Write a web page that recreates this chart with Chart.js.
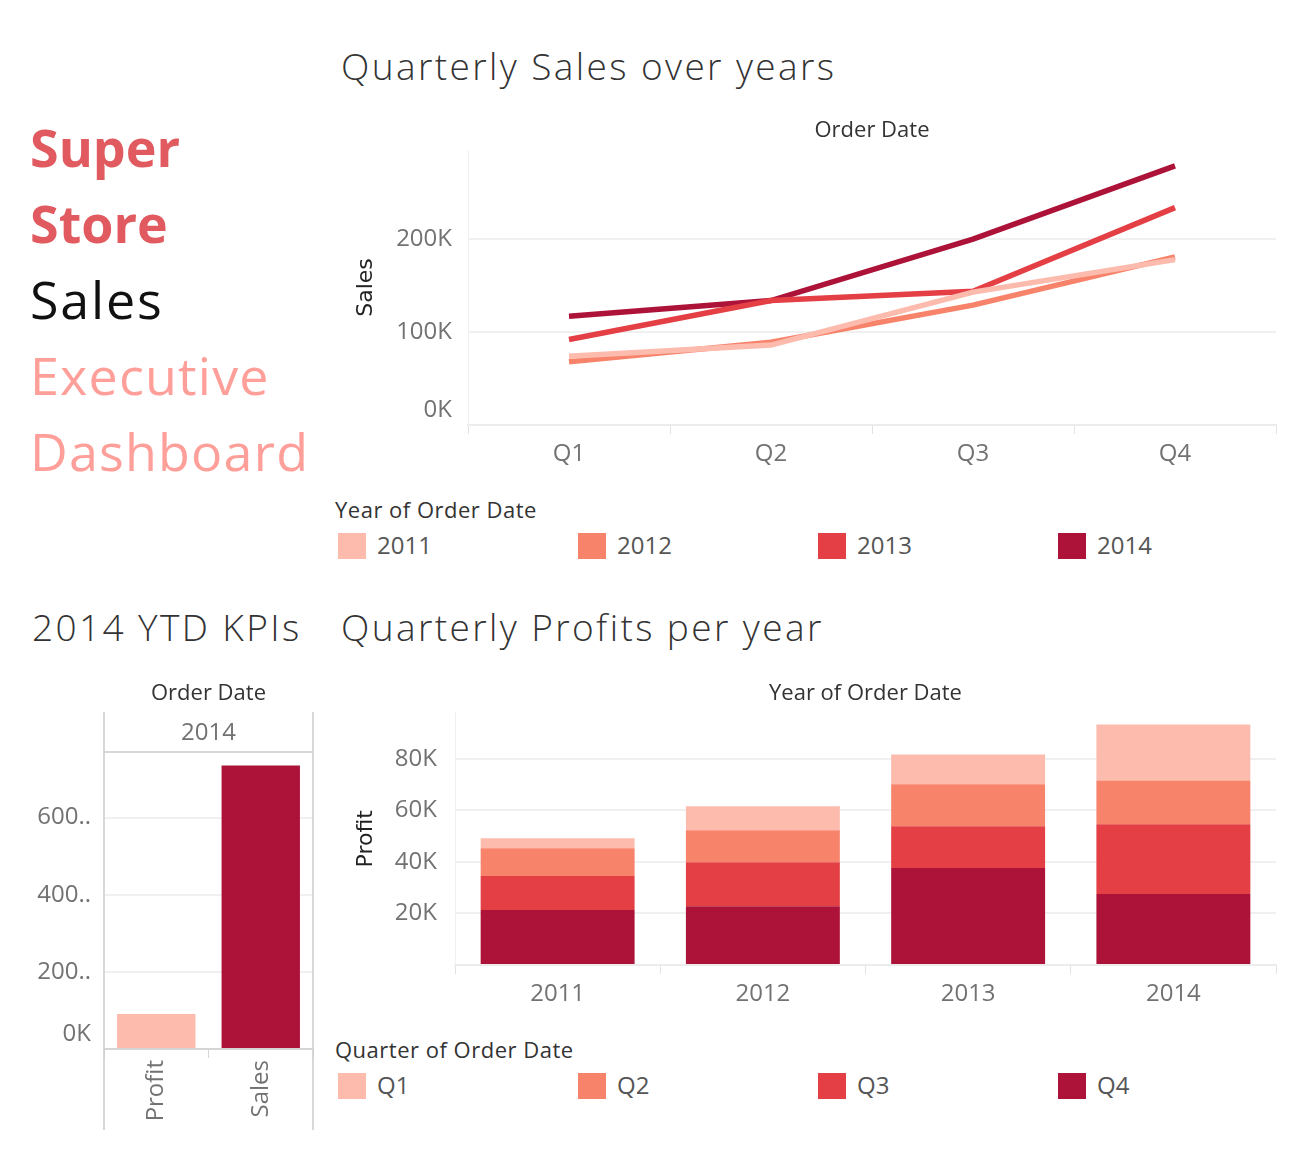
<!DOCTYPE html>
<html>
<head>
<meta charset="utf-8">
<script src="https://cdn.jsdelivr.net/npm/chart.js@4.4.1/dist/chart.umd.min.js"></script>
<style>
  body { margin: 0; background: #fff; font-family: "Open Sans", sans-serif; }
  #page { position: relative; width: 1298px; height: 1154px; overflow: hidden; }
  .abs { position: absolute; }
  .brand { left: 30px; top: 109px; font-size: 52px; line-height: 76px; }
  .brand div { white-space: nowrap; }
  .red { color: #e05a5f; font-weight: 700; }
  .black { color: #111; font-weight: 400; letter-spacing: 1.8px; }
  .pink { color: #ff9f9a; font-weight: 400; letter-spacing: 1.2px; }
  .title { font-size: 37px; font-weight: 300; color: #333; white-space: nowrap; letter-spacing: 2.4px; }
  .legend-title { font-size: 22px; font-weight: 500; color: #333; white-space: nowrap; letter-spacing: 0.5px; }
  .legend-item { position: absolute; font-size: 24px; color: #555; white-space: nowrap; }
  .legend-item span { display: inline-block; width: 28px; height: 26px; vertical-align: middle; margin-right: 11px; margin-top: -3px; }
  canvas { position: absolute; }
</style>
</head>
<body>
<div id="page">
  <div class="abs brand">
    <div class="red">Super</div>
    <div class="red">Store</div>
    <div class="black">Sales</div>
    <div class="pink">Executive</div>
    <div class="pink">Dashboard</div>
  </div>

  <div class="abs title" style="left:341px; top:40px;">Quarterly Sales over years</div>
  <canvas id="salesChart" width="950" height="380" style="left:340px; top:110px;"></canvas>
  <div class="abs legend-title" style="left:335px; top:494px;">Year of Order Date</div>
  <div id="yearLegend"></div>

  <div class="abs title" style="left:32px; top:601px;">2014 YTD KPIs</div>
  <canvas id="kpiChart" width="310" height="460" style="left:20px; top:680px;"></canvas>

  <div class="abs title" style="left:341px; top:601px;">Quarterly Profits per year</div>
  <canvas id="profitChart" width="950" height="340" style="left:340px; top:680px;"></canvas>
  <div class="abs legend-title" style="left:335px; top:1034px;">Quarter of Order Date</div>
  <div id="quarterLegend"></div>
</div>

<script>
// data
const quarters = ["Q1", "Q2", "Q3", "Q4"];
const years = ["2011", "2012", "2013", "2014"];
const colors = ["#fcbbad", "#f8836b", "#e33f45", "#ad1339"];

const sales2011 = [74000, 86000, 143000, 178000];
const sales2012 = [68000, 89000, 129000, 181000];
const sales2013 = [92000, 134000, 144000, 234000];
const sales2014 = [117000, 134000, 200000, 279000];
const salesTicks = [0, 100000, 200000];

// profit per year, one array per quarter
const profitQ1 = [3900, 9300, 11600, 21700];
const profitQ2 = [10800, 12400, 16300, 17000];
const profitQ3 = [13200, 17100, 16200, 27100];
const profitQ4 = [21300, 22800, 37600, 27500];
const profitTicks = [0, 20000, 40000, 60000, 80000];

const kpiLabels = ["Profit", "Sales"];
const kpiValues = [91000, 735000];
const kpiTicks = [0, 200000, 400000, 600000];

const tickGray = "#727272";
const gridGray = "#f0f0f0";
const tickFont = { size: 24, family: "'Open Sans'" };
const axisTitleFont = { size: 22, family: "'DejaVu Sans'" };

// zero label sits a bit above the axis line, like the original
const zeroUp = txt => [txt, ""];

// small title above the plot area
const headerPlugin = {
  id: "header",
  afterDraw(chart, args, opts) {
    if (!opts.text) return;
    const ctx = chart.ctx;
    const a = chart.chartArea;
    ctx.save();
    ctx.font = "500 22px 'Open Sans'";
    ctx.fillStyle = "#333";
    ctx.textAlign = "center";
    ctx.textBaseline = "middle";
    ctx.fillText(opts.text, (a.left + a.right) / 2, opts.y);
    ctx.restore();
  }
};
Chart.register(headerPlugin);

function buildLegend(id, labels, top) {
  const holder = document.getElementById(id);
  labels.forEach((lab, i) => {
    const d = document.createElement("div");
    d.className = "legend-item";
    d.style.left = (338 + i * 240) + "px";
    d.style.top = top + "px";
    d.innerHTML = '<span style="background:' + colors[i] + '"></span>' + lab;
    holder.appendChild(d);
  });
}
buildLegend("yearLegend", years, 528);
buildLegend("quarterLegend", quarters, 1068);

// Quarterly sales lines
const salesByYear = [sales2011, sales2012, sales2013, sales2014];
new Chart(document.getElementById("salesChart"), {
  type: "line",
  data: {
    labels: quarters,
    datasets: years.map((y, i) => ({
      label: y,
      data: salesByYear[i],
      borderColor: colors[i],
      backgroundColor: colors[i],
      borderWidth: 5.5,
      pointRadius: 0,
      tension: 0,
      fill: false
    }))
  },
  options: {
    responsive: false,
    animation: false,
    layout: { padding: { top: 40, right: 14, left: 0, bottom: 0 } },
    plugins: {
      legend: { display: false },
      tooltip: { enabled: false },
      header: { text: "Order Date", y: 21 }
    },
    scales: {
      x: {
        offset: true,
        grid: { offset: true, drawOnChartArea: false, tickLength: 9, color: "#e2e2e2", lineWidth: 1 },
        border: { color: "#ececec", width: 2 },
        ticks: { color: tickGray, font: tickFont, padding: 6 },
        afterFit(s) { s.height = 65; }
      },
      y: {
        min: 0,
        max: 296000,
        afterBuildTicks(s) { s.ticks = salesTicks.map(v => ({ value: v })); },
        ticks: {
          color: tickGray,
          font: tickFont,
          padding: 16,
          callback: v => v === 0 ? zeroUp("0K") : (v / 1000) + "K"
        },
        grid: { color: gridGray, lineWidth: 2, drawTicks: false },
        border: { color: "#f0f0f0", width: 1 },
        title: { display: true, text: "Sales", color: "#222", font: axisTitleFont, padding: { top: 13, bottom: 0 } },
        afterFit(s) { s.width = 128; }
      }
    }
  }
});

// Quarterly profits stacked bars (Q4 at the bottom)
const profitByQuarter = [profitQ1, profitQ2, profitQ3, profitQ4];
new Chart(document.getElementById("profitChart"), {
  type: "bar",
  data: {
    labels: years,
    datasets: quarters.map((q, i) => ({
      label: q,
      data: profitByQuarter[i],
      backgroundColor: colors[i],
      borderWidth: 0,
      order: 3 - i,
      barPercentage: 0.75,
      categoryPercentage: 1
    }))
  },
  options: {
    responsive: false,
    animation: false,
    layout: { padding: { top: 32, right: 14, left: 0, bottom: 0 } },
    plugins: {
      legend: { display: false },
      tooltip: { enabled: false },
      header: { text: "Year of Order Date", y: 14 }
    },
    scales: {
      x: {
        stacked: true,
        grid: { offset: true, drawOnChartArea: false, tickLength: 9, color: "#e2e2e2", lineWidth: 1 },
        border: { color: "#ececec", width: 2 },
        ticks: { color: tickGray, font: tickFont, padding: 6 },
        afterFit(s) { s.height = 55; }
      },
      y: {
        stacked: true,
        min: 0,
        max: 98000,
        afterBuildTicks(s) { s.ticks = profitTicks.map(v => ({ value: v })); },
        ticks: {
          color: tickGray,
          font: tickFont,
          padding: 18,
          callback: v => v === 0 ? "" : (v / 1000) + "K"
        },
        grid: { color: gridGray, lineWidth: 2, drawTicks: false },
        border: { color: "#f0f0f0", width: 1 },
        title: { display: true, text: "Profit", color: "#222", font: axisTitleFont, padding: { top: 13, bottom: 0 } },
        afterFit(s) { s.width = 115; }
      }
    }
  }
});

// 2014 KPI panel: header cell + side borders
const kpiPanel = {
  id: "kpiPanel",
  afterDraw(chart) {
    const ctx = chart.ctx;
    const a = chart.chartArea;
    ctx.save();
    ctx.strokeStyle = "#cccccc";
    ctx.lineWidth = 1.5;
    ctx.beginPath();
    ctx.moveTo(a.left, a.top - 40); ctx.lineTo(a.left, a.bottom + 81);
    ctx.moveTo(a.right, a.top - 40); ctx.lineTo(a.right, a.bottom + 81);
    ctx.moveTo(a.left, a.top); ctx.lineTo(a.right, a.top);
    ctx.moveTo(a.left, a.bottom); ctx.lineTo(a.right, a.bottom);
    ctx.stroke();
    ctx.font = "24px 'Open Sans'";
    ctx.fillStyle = tickGray;
    ctx.textAlign = "center";
    ctx.textBaseline = "middle";
    ctx.fillText("2014", (a.left + a.right) / 2, a.top - 19);
    ctx.restore();
  }
};

new Chart(document.getElementById("kpiChart"), {
  type: "bar",
  data: {
    labels: kpiLabels,
    datasets: [{
      data: kpiValues,
      backgroundColor: [colors[0], colors[3]],
      borderWidth: 0,
      barPercentage: 0.75,
      categoryPercentage: 1
    }]
  },
  plugins: [kpiPanel],
  options: {
    responsive: false,
    animation: false,
    layout: { padding: { top: 72, right: 17, left: 0, bottom: 0 } },
    plugins: {
      legend: { display: false },
      tooltip: { enabled: false },
      header: { text: "Order Date", y: 14 }
    },
    scales: {
      x: {
        grid: { offset: true, drawOnChartArea: false, tickLength: 9, color: "#d8d8d8", lineWidth: 1 },
        border: { display: false },
        ticks: { color: tickGray, font: tickFont, minRotation: 90, maxRotation: 90, padding: 2 },
        afterFit(s) { s.height = 91; }
      },
      y: {
        min: 0,
        max: 770000,
        afterBuildTicks(s) { s.ticks = kpiTicks.map(v => ({ value: v })); },
        ticks: {
          color: tickGray,
          font: tickFont,
          padding: 13,
          callback: v => v === 0 ? zeroUp("0K") : (v / 1000) + ".."
        },
        grid: { color: gridGray, lineWidth: 2, drawTicks: false },
        border: { display: false },
        afterFit(s) { s.width = 84; }
      }
    }
  }
});
</script>
</body>
</html>
